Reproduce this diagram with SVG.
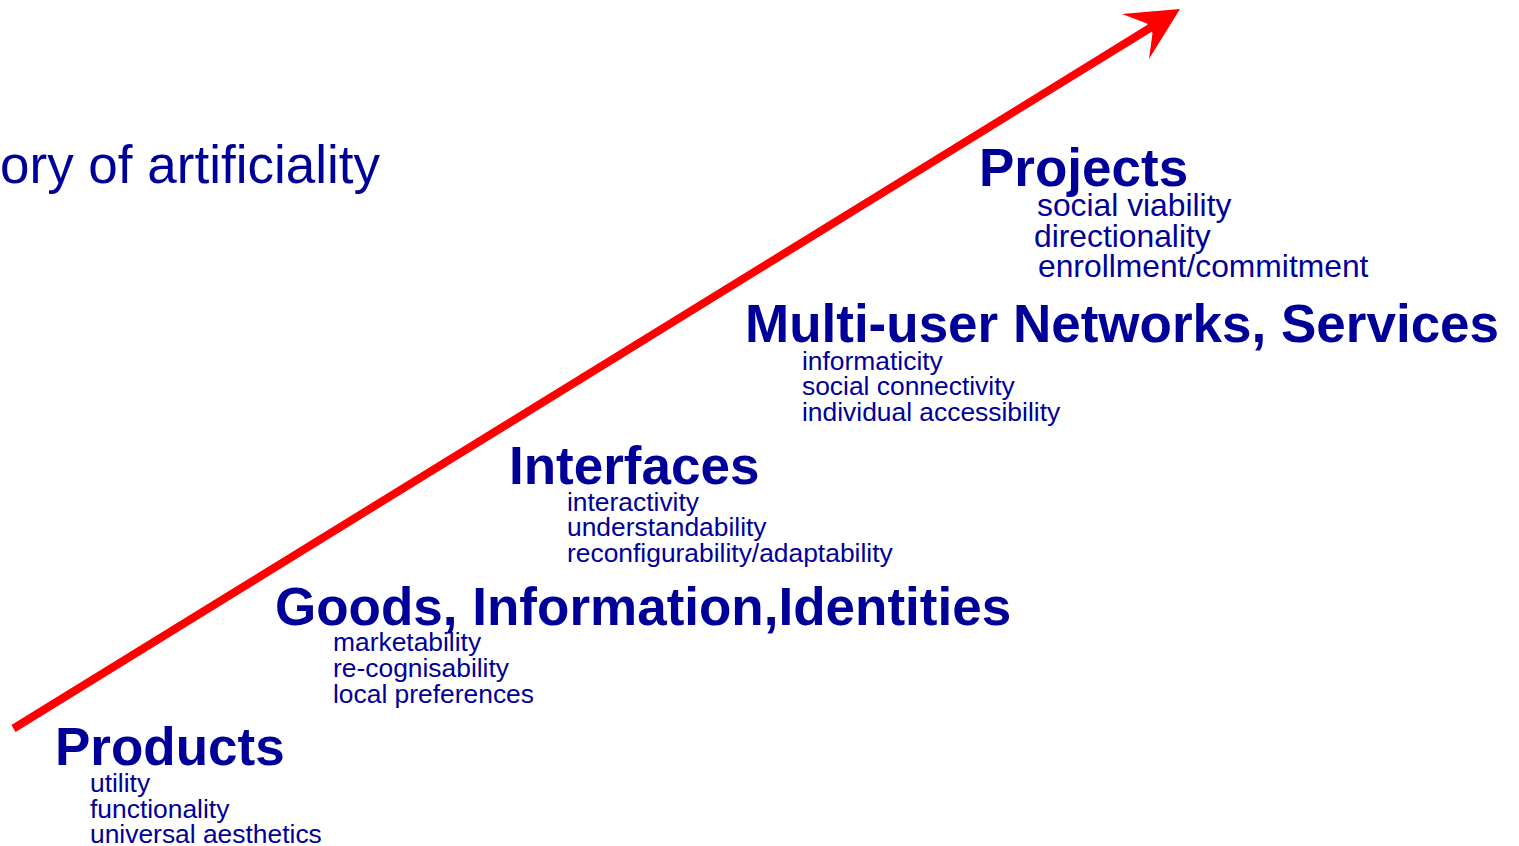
<svg xmlns="http://www.w3.org/2000/svg" width="1519" height="846" viewBox="0 0 1519 846">
<style>
text{font-family:"Liberation Sans",Arial,sans-serif;fill:#000099}
.h{font-size:53px;font-weight:bold}
.s{font-size:26.4px}
.p{font-size:31.8px}
.t{font-size:53px}
</style>
<rect width="1519" height="846" fill="#fff"/>
<g id="connectors">
<line x1="13.5" y1="728.5" x2="1150" y2="28" stroke="#ff0000" stroke-width="8"/>
<polygon points="1180,9 1122,14 1147,23.5 1152.5,33 1149,59" fill="#ff0000"/>
</g>
<g id="title"><text class="t" x="0" y="183">ory of artificiality</text></g>
<g id="products">
<text class="h" x="55" y="765">Products</text>
<text class="s" x="90" y="792">utility</text>
<text class="s" x="90" y="818">functionality</text>
<text class="s" x="90" y="843">universal aesthetics</text>
</g>
<g id="goods">
<text class="h" x="275" y="625">Goods, Information,Identities</text>
<text class="s" x="333" y="651">marketability</text>
<text class="s" x="333" y="677">re-cognisability</text>
<text class="s" x="333" y="703">local preferences</text>
</g>
<g id="interfaces">
<text class="h" x="509" y="484">Interfaces</text>
<text class="s" x="567" y="511">interactivity</text>
<text class="s" x="567" y="536">understandability</text>
<text class="s" x="567" y="562">reconfigurability/adaptability</text>
</g>
<g id="networks">
<text class="h" x="745" y="342">Multi-user Networks, Services</text>
<text class="s" x="802" y="370">informaticity</text>
<text class="s" x="802" y="395">social connectivity</text>
<text class="s" x="802" y="421">individual accessibility</text>
</g>
<g id="projects">
<text class="h" x="979" y="186">Projects</text>
<text class="p" x="1037" y="216">social viability</text>
<text class="p" x="1034" y="247">directionality</text>
<text class="p" x="1038" y="277">enrollment/commitment</text>
</g>
</svg>
